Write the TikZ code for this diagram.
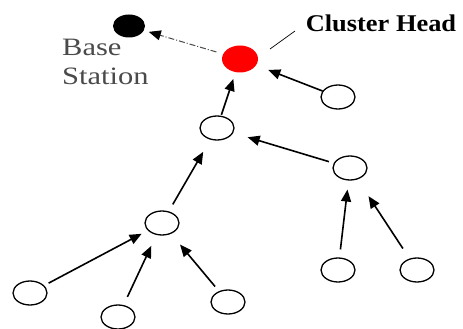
\documentclass[tikz,border=0pt]{standalone}
\usepackage{fontspec}
\setmainfont{Liberation Serif}
\usetikzlibrary{shapes.geometric,arrows.meta}
\definecolor{labelgray}{HTML}{4A4A4A}
\begin{document}
\begin{tikzpicture}
[x=1pt,y=-1pt,
  nodedecorate/.style={shape=ellipse,minimum width=34pt,minimum height=24pt,inner sep=0pt,draw,line width=1.3pt},%
  linedecorate/.style={-{Triangle[length=12pt,width=10pt]},line width=1.6pt},%
  headdecorate/.style={shape=ellipse,minimum width=36pt,minimum height=27pt,inner sep=0pt,fill=red},%
  basedecorate/.style={shape=ellipse,minimum width=32pt,minimum height=23pt,inner sep=0pt,fill=black},%
  linkdecorate/.style={-{Triangle[length=12pt,width=10pt,black]},line width=1pt,draw=labelgray,
    dash pattern=on 6pt off 2pt on 1pt off 2pt}]
\useasboundingbox (0,0) rectangle (463,329);
%% base station and cluster head
\node (bs) at (129,26) [basedecorate] {};
\node (ch) at (240,59) [headdecorate] {};
\node (bslabel) at (62,39) [anchor=north west,align=left,inner sep=0pt,text=labelgray,
  font=\fontsize{25}{29}\selectfont] {\scalebox{1.22}[1]{Base}\\\scalebox{1.22}[1]{Station}};
\node (chlabel) at (381,23) [inner sep=0pt,font=\fontsize{24}{26}\selectfont\bfseries]
  {\scalebox{1.1}[1]{Cluster Head}};
\coordinate (ptrA) at (270,49);
\coordinate (ptrB) at (295,31);
\draw[line width=0.7pt] (ptrA) -- (ptrB);
%% nodes or vertices
\foreach \nodename/\x/\y in {1/338/97, 2/217/128, 3/350/168, 4/162/223,
  5/30/293, 6/118/317, 7/228/302, 8/338/270, 9/417/270} {
  \node (\nodename) at (\x,\y) [nodedecorate] {};
}
%% edges or lines
\draw[linkdecorate,shorten <=7pt,shorten >=5pt] (ch) -- (bs);
\path
\foreach \startnode/\endnode/\sa/\sb in {1/ch/0/13, 2/ch/1/7, 3/2/5/15, 4/2/8/14,
  5/4/5/7, 6/4/9/12, 7/4/6/14, 8/3/8/9, 9/3/12/20} {
  (\startnode) edge[linedecorate,shorten <=\sa pt,shorten >=\sb pt] (\endnode)
};
\end{tikzpicture}
\end{document}
